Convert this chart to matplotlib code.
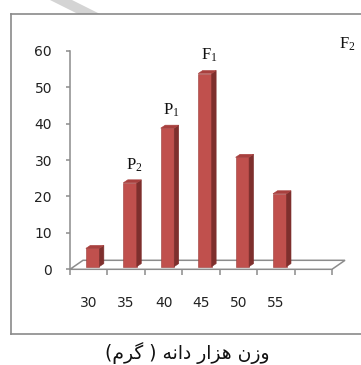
import matplotlib
matplotlib.use("Agg")
import matplotlib.pyplot as plt
from matplotlib.patches import Polygon
from matplotlib.lines import Line2D

plt.rcParams["font.family"] = ["DejaVu Sans"]
plt.rcParams["mathtext.fontset"] = "custom"
plt.rcParams["mathtext.rm"] = "Liberation Serif"
plt.rcParams["mathtext.it"] = "Liberation Serif:italic"

# Thousand-grain weight classes and their frequencies
categories = ["30", "35", "40", "45", "50", "55"]
values = [5, 23, 38, 53, 30, 20]
yticks = [0, 10, 20, 30, 40, 50, 60]
generation_labels = {"35": "P_{2}", "40": "P_{1}", "45": "F_{1}"}
corner_label = "F_{2}"
xlabel_text = "وزن هزار دانه ( گرم)"

n_slots = len(categories) + 1

# --- minimal Arabic/Persian shaping for the caption (isolated, final, initial, medial)
FORMS = {
    "و": ("\uFEED", "\uFEEE", None, None),
    "ز": ("\uFEAF", "\uFEB0", None, None),
    "ر": ("\uFEAD", "\uFEAE", None, None),
    "د": ("\uFEA9", "\uFEAA", None, None),
    "ا": ("\uFE8D", "\uFE8E", None, None),
    "ن": ("\uFEE5", "\uFEE6", "\uFEE7", "\uFEE8"),
    "ه": ("\uFEE9", "\uFEEA", "\uFEEB", "\uFEEC"),
    "م": ("\uFEE1", "\uFEE2", "\uFEE3", "\uFEE4"),
    "گ": ("\uFB92", "\uFB93", "\uFB94", "\uFB95"),
}


def shape_rtl(text):
    out = []
    for i, ch in enumerate(text):
        if ch not in FORMS:
            out.append(ch)
            continue
        iso, fin, ini, med = FORMS[ch]
        prev = text[i - 1] if i > 0 else ""
        nxt = text[i + 1] if i + 1 < len(text) else ""
        join_prev = prev in FORMS and FORMS[prev][2] is not None
        join_next = nxt in FORMS and ini is not None
        if join_prev and join_next:
            out.append(med)
        elif join_prev:
            out.append(fin)
        elif join_next:
            out.append(ini)
        else:
            out.append(iso)
    mirror = {"(": ")", ")": "("}
    return "".join(mirror.get(c, c) for c in reversed(out))


W, H = 361, 365
fig = plt.figure(figsize=(W / 100, H / 100), dpi=100)

# plot area in pixels
px_left, px_right = 70, 332
px_y0, px_y60 = 269.3, 50.7
ax = fig.add_axes([px_left / W, 1 - px_y0 / H,
                   (px_right - px_left) / W, (px_y0 - px_y60) / H])
ax.set_xlim(-0.5, n_slots - 0.5)
ax.set_ylim(0, 60)
ax.patch.set_visible(False)

x_per_px = n_slots / (px_right - px_left)
y_per_px = 60 / (px_y0 - px_y60)

grey = "#8c8c8c"
# floor depth offsets
ddx = 13 * x_per_px
ddy = 9 * y_per_px
floor = Polygon([(-0.5, 0), (n_slots - 0.5, 0),
                 (n_slots - 0.5 + ddx, ddy), (-0.5 + ddx, ddy)],
                closed=True, facecolor="white", edgecolor=grey,
                lw=1.1, clip_on=False, zorder=1)
ax.add_patch(floor)

# 3-D columns
front_c, side_c, top_c = "#C0504D", "#7E2F2D", "#A8403E"
bar_w = 13.5 * x_per_px
d0 = 0.3
bdx, bdy = 4.5 * x_per_px, 3.0 * y_per_px
for i, v in enumerate(values):
    cx = i + d0 * ddx
    b = d0 * ddy
    x0, x1 = cx - bar_w / 2, cx + bar_w / 2
    ax.add_patch(Polygon([(x0, b), (x1, b), (x1, b + v), (x0, b + v)],
                         facecolor=front_c, edgecolor="#9a3b39", lw=0.4,
                         zorder=3, clip_on=False))
    ax.add_patch(Polygon([(x1, b), (x1 + bdx, b + bdy), (x1 + bdx, b + v + bdy),
                          (x1, b + v)],
                         facecolor=side_c, edgecolor=side_c, lw=0.4,
                         zorder=3, clip_on=False))
    ax.add_patch(Polygon([(x0, b + v), (x1, b + v), (x1 + bdx, b + v + bdy),
                          (x0 + bdx, b + v + bdy)],
                         facecolor=top_c, edgecolor=top_c, lw=0.4,
                         zorder=3, clip_on=False))
    lab = generation_labels.get(categories[i])
    if lab:
        ax.annotate(r"$\mathrm{" + lab + "}$", xy=(cx, b + v),
                    xytext=(3, 13), textcoords="offset points",
                    ha="center", va="center", fontsize=12, color="#111111")

# axes styling
for s in ("top", "right", "bottom"):
    ax.spines[s].set_visible(False)
ax.spines["left"].set_color(grey)
ax.spines["left"].set_linewidth(1.1)
ax.set_yticks(yticks)
ax.set_yticklabels([str(t) for t in yticks])
ax.tick_params(axis="y", direction="out", length=3, width=1.1, color=grey,
               pad=10, labelsize=10, labelcolor="#222222")
ax.set_xticks(range(len(categories)))
ax.set_xticklabels(categories)
ax.set_xticks([k - 0.5 for k in range(n_slots + 1)], minor=True)
ax.tick_params(axis="x", which="major", length=0, pad=19.5, labelsize=10,
               labelcolor="#222222")
ax.tick_params(axis="x", which="minor", direction="out", length=4.5,
               width=1.1, color=grey)

# generation label in the corner
fig.text(347 / W, 1 - 44 / H, r"$\mathrm{" + corner_label + "}$",
         ha="center", va="center", fontsize=12, color="#111111")

# chart frame (open on the right)
fc = "#8a8a8a"
fig.add_artist(Line2D([11 / W, 11 / W], [1 - 14 / H, 1 - 334 / H],
                      color=fc, lw=1.2, transform=fig.transFigure))
fig.add_artist(Line2D([11 / W, 1], [1 - 14 / H, 1 - 14 / H],
                      color=fc, lw=1.2, transform=fig.transFigure))
fig.add_artist(Line2D([11 / W, 1], [1 - 334 / H, 1 - 334 / H],
                      color=fc, lw=1.2, transform=fig.transFigure))

# light diagonal stroke across the top edge
fig.add_artist(Polygon([(50 / W, 1), (72 / W, 1), (100 / W, 1 - 14 / H),
                        (78 / W, 1 - 14 / H)], closed=True,
                       facecolor="#d4d4d4", edgecolor="none",
                       transform=fig.transFigure))

# caption
fig.text(187 / W, 1 - 353 / H, shape_rtl(xlabel_text), ha="center",
         va="center", fontsize=13.5, color="#111111")

fig.savefig("out.png", dpi=100)
